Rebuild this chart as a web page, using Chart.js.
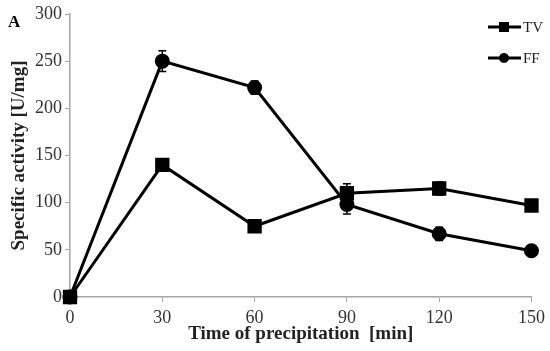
<!DOCTYPE html>
<html lang="en">
<head>
<meta charset="UTF-8">
<title>Specific activity</title>
<script src="https://cdn.jsdelivr.net/npm/chart.js@4.4.1/dist/chart.umd.min.js"></script>
<style>
  html, body { margin: 0; padding: 0; background: #fff; }
  #wrap { width: 550px; height: 351px; position: relative; }
</style>
</head>
<body>
<div id="wrap"><canvas id="myChart"></canvas></div>
<script>
// data
const times = [0, 30, 60, 90, 120, 150];
const tvValues = [0, 140, 75, 110, 115, 97];
const tvErrors = [0, 5, 6, 10, 7, 0];
const ffValues = [0, 250, 222, 98, 67, 49];
const ffErrors = [0, 11, 7, 10, 7, 0];
const yTicks = [0, 50, 100, 150, 200, 250, 300];

const serif = "'Liberation Serif', 'Times New Roman', serif";

// error bars, drawn through the scales
const errorBars = {
    id: 'errorBars',
    afterDatasetsDraw(chart) {
        const ctx = chart.ctx;
        const xs = chart.scales.x, ys = chart.scales.y;
        const sets = [[tvValues, tvErrors], [ffValues, ffErrors]];
        ctx.save();
        ctx.strokeStyle = '#000';
        ctx.lineWidth = 1.5;
        sets.forEach(([vals, errs]) => {
            vals.forEach((v, i) => {
                if (!errs[i]) return;
                const x = xs.getPixelForValue(times[i]);
                const y1 = ys.getPixelForValue(v + errs[i]);
                const y2 = ys.getPixelForValue(v - errs[i]);
                ctx.beginPath();
                ctx.moveTo(x, y1); ctx.lineTo(x, y2);
                ctx.moveTo(x - 4, y1); ctx.lineTo(x + 4, y1);
                ctx.moveTo(x - 4, y2); ctx.lineTo(x + 4, y2);
                ctx.stroke();
            });
        });
        ctx.restore();
    }
};

// panel letter + legend with line and marker
const extras = {
    id: 'extras',
    afterDraw(chart) {
        const ctx = chart.ctx;
        ctx.save();
        ctx.fillStyle = '#000';
        ctx.font = 'bold 17px ' + serif;
        ctx.textBaseline = 'middle';
        ctx.fillText('A', 8, 23);

        const items = [['TV', 'rect', 27], ['FF', 'circle', 58]];
        items.forEach(([label, shape, y]) => {
            ctx.strokeStyle = '#000';
            ctx.lineWidth = 3;
            ctx.beginPath();
            ctx.moveTo(488, y); ctx.lineTo(521, y);
            ctx.stroke();
            ctx.beginPath();
            if (shape === 'rect') ctx.rect(499, y - 5, 10, 10);
            else ctx.arc(504, y, 5, 0, Math.PI * 2);
            ctx.fill();
            ctx.font = '15px ' + serif;
            ctx.fillStyle = '#222';
            ctx.fillText(label, 523, y + 1);
            ctx.fillStyle = '#000';
        });
        ctx.restore();
    }
};

const ctx = document.getElementById('myChart').getContext('2d');
new Chart(ctx, {
    type: 'line',
    data: {
        datasets: [{
            label: 'TV',
            data: times.map((t, i) => ({ x: t, y: tvValues[i] })),
            borderColor: '#000',
            backgroundColor: '#000',
            borderWidth: 3,
            pointStyle: 'rect',
            pointRadius: 8,
            pointHoverRadius: 8,
            clip: false
        }, {
            label: 'FF',
            data: times.map((t, i) => ({ x: t, y: ffValues[i] })),
            borderColor: '#000',
            backgroundColor: '#000',
            borderWidth: 3,
            pointStyle: 'circle',
            pointRadius: 6,
            pointHoverRadius: 6,
            clip: false
        }]
    },
    options: {
        responsive: true,
        maintainAspectRatio: false,
        animation: false,
        layout: { padding: { top: 14, right: 17, left: 4, bottom: 2 } },
        plugins: {
            legend: { display: false },
            tooltip: { enabled: false }
        },
        scales: {
            x: {
                type: 'linear',
                min: 0,
                max: 150,
                afterBuildTicks: axis => { axis.ticks = times.map(v => ({ value: v })); },
                afterFit: axis => { axis.height = 52; },
                border: { color: '#a6a6a6', width: 1.5 },
                grid: { drawOnChartArea: false, drawTicks: true, tickLength: 5, color: '#a6a6a6' },
                ticks: { color: '#333', font: { family: serif, size: 18 }, padding: 5, maxRotation: 0 },
                title: {
                    display: true,
                    text: 'Time of precipitation  [min]',
                    color: '#222',
                    font: { family: serif, size: 19, weight: 'bold' },
                    padding: { top: 0, bottom: 4 }
                }
            },
            y: {
                min: 0,
                max: 300,
                afterBuildTicks: axis => { axis.ticks = yTicks.map(v => ({ value: v })); },
                afterFit: axis => { axis.width = 66; },
                border: { color: '#a6a6a6', width: 1.5 },
                grid: { drawOnChartArea: false, drawTicks: true, tickLength: 5, color: '#a6a6a6' },
                ticks: { color: '#333', font: { family: serif, size: 18 }, padding: 3 },
                title: {
                    display: true,
                    text: 'Specific activity [U/mg]',
                    color: '#222',
                    font: { family: serif, size: 19, weight: 'bold' },
                    padding: { top: 4, bottom: 0 }
                }
            }
        }
    },
    plugins: [errorBars, extras]
});
</script>
</body>
</html>
